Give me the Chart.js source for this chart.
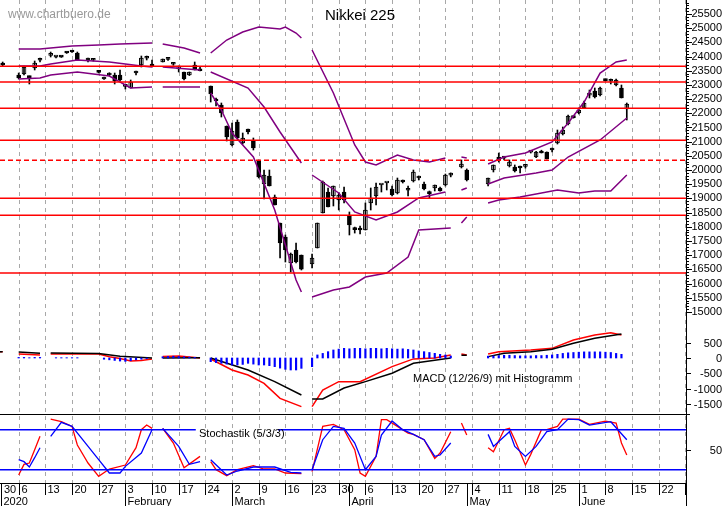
<!DOCTYPE html>
<html>
<head>
<meta charset="utf-8">
<script src="https://cdn.jsdelivr.net/npm/chart.js@4.4.0/dist/chart.umd.min.js"></script>
<style>
  html, body { margin: 0; padding: 0; background: #fff; }
  #wrap { width: 723px; height: 506px; }
</style>
</head>
<body>
<div id="wrap"><canvas id="chart" width="723" height="506"></canvas></div>
<script>
// x = trading slot (5 per week, slot 0 = Mon 30 Dec 2019)
const candlesJan = [
  [2, 23773, 23808, 23667, 23702],
  [5, 23350, 23420, 23209, 23244], [6, 23385, 23667, 23350, 23632], [7, 23280, 23315, 23033, 23260],
  [8, 23597, 23843, 23526, 23773], [9, 23870, 23950, 23808, 23890],
  [11, 24040, 24160, 23984, 24060], [12, 23980, 24020, 23950, 23990], [13, 23990, 24000, 23970, 23980],
  [14, 24160, 24170, 24110, 24125], [15, 24196, 24200, 24150, 24160], [16, 24125, 24160, 23879, 23879],
  [18, 23880, 23949, 23808, 23890], [19, 23870, 23910, 23840, 23880], [20, 23460, 23490, 23420, 23440],
  [21, 23209, 23279, 23190, 23279], [22, 23350, 23430, 23320, 23420], [23, 23350, 23420, 23033, 23138],
  [24, 23350, 23526, 23138, 23174]
];
const candlesFeb = [
  [25, 22950, 22997, 22857, 22970], [26, 22892, 23174, 22892, 23103], [27, 23420, 23491, 23350, 23430],
  [28, 23702, 24019, 23632, 23949], [29, 23940, 24019, 23879, 23960], [30, 23738, 23879, 23667, 23667],
  [32, 23808, 23914, 23808, 23914], [33, 23900, 23960, 23860, 23914], [34, 23730, 23790, 23690, 23738],
  [35, 23561, 23667, 23456, 23667], [36, 23456, 23456, 23174, 23209], [37, 23350, 23456, 23330, 23456],
  [38, 23702, 23808, 23526, 23526], [39, 23526, 23632, 23491, 23500],
  [41, 22962, 22962, 22398, 22680], [42, 22469, 22540, 22258, 22434], [43, 22293, 22363, 21870, 22011],
  [44, 21553, 21553, 21024, 21165]
];
const candlesMar = [
  [45, 20883, 21659, 20848, 21377], [46, 21694, 21765, 21095, 21130], [47, 20954, 21306, 20918, 21130],
  [48, 21447, 21447, 21271, 21341], [49, 21024, 21130, 20707, 20778], [50, 20355, 20355, 19720, 19755],
  [51, 19509, 20002, 18981, 19826], [52, 19791, 20002, 19438, 19438], [53, 19051, 19121, 18769, 18769],
  [54, 18134, 18134, 16901, 17430], [55, 17641, 17712, 16760, 17183], [56, 16725, 17077, 16408, 17042],
  [57, 17183, 17430, 16725, 16760], [58, 17007, 17007, 16478, 16507],
  [60, 16690, 17042, 16549, 16901], [61, 17253, 18134, 17253, 18134], [62, 18487, 19615, 18487, 19579],
  [63, 19227, 19368, 18698, 18698], [64, 19086, 19438, 18734, 19438], [65, 18945, 19192, 18593, 19121],
  [66, 19227, 19403, 18840, 18945]
];
const candlesApr = [
  [67, 18381, 18523, 17712, 18064], [68, 17920, 17990, 17780, 17900], [69, 17958, 18030, 17747, 17888],
  [70, 17888, 18840, 17888, 18593], [71, 18840, 19368, 18593, 19016], [72, 19086, 19544, 18769, 19403],
  [73, 19474, 19490, 19227, 19480], [74, 19544, 19560, 19298, 19550], [75, 19333, 19438, 19086, 19121],
  [76, 19192, 19720, 19157, 19650], [77, 19615, 19650, 19544, 19579], [78, 19290, 19438, 19086, 19300],
  [79, 19615, 20002, 19579, 19932], [80, 19720, 19791, 19650, 19730], [81, 19509, 19579, 19298, 19333],
  [82, 19200, 19262, 19000, 19170], [83, 19368, 19474, 19262, 19474], [84, 19368, 19400, 19260, 19262],
  [85, 19474, 19860, 19438, 19826], [86, 19820, 19900, 19760, 19830],
  [88, 20108, 20355, 20073, 20214], [89, 20002, 20040, 19615, 19650]
];
const candlesMay = [
  [93, 19509, 19720, 19438, 19720], [94, 20002, 20179, 19932, 20179], [95, 20460, 20600, 20280, 20355],
  [96, 20420, 20480, 20360, 20430], [97, 20143, 20355, 20108, 20284], [98, 20108, 20180, 19932, 19967],
  [99, 20143, 20143, 19897, 20073], [100, 20130, 20180, 20070, 20140], [101, 20630, 20650, 20600, 20637],
  [102, 20460, 20660, 20440, 20637], [103, 20672, 20700, 20601, 20601], [104, 20637, 20640, 20390, 20390],
  [105, 20707, 20778, 20637, 20778], [106, 20954, 21412, 20918, 21306], [107, 21271, 21518, 21236, 21412],
  [108, 21623, 21940, 21588, 21905], [109, 21880, 21905, 21830, 21850], [110, 22011, 22187, 21976, 22117],
  [111, 22187, 22434, 22187, 22363], [112, 22640, 22821, 22540, 22650], [113, 22786, 22892, 22540, 22575],
  [114, 22645, 22927, 22610, 22892], [115, 23174, 23209, 23138, 23150], [116, 23130, 23209, 23033, 23140],
  [117, 22997, 23209, 22962, 23174], [118, 22892, 22997, 22540, 22540], [119, 22152, 22363, 21765, 22328]
];

// Bollinger bands, null = gap
const upperBand = [[0, 24266], [1, 24266], null,
  [5, 24266], [9, 24266], [11, 24302], [15, 24372], [20, 24407], [24, 24443], [30, 24478], null,
  [32, 24443], [36, 24302], [39, 24125], null,
  [41, 24125], [44, 24583], [47, 24865], [50, 25042], [54, 24971], [55, 25042], [57, 24830], [58, 24654], null,
  [60, 24231], [64, 22716], [68, 20883], [70, 20284], [72, 20179], [76, 20531], [79, 20355], [82, 20284], [85, 20425], null,
  [88, 20460], [89, 20425], null,
  [93, 20214], [96, 20460], [100, 20601], [105, 20989], [108, 21659], [111, 22398], [114, 23420], [117, 23808], [119, 23879]];
const midBand = [[0, 23667], [1, 23667], null,
  [5, 23667], [9, 23667], [11, 23738], [16, 23879], [22, 23808], [28, 23667], [30, 23632], null,
  [32, 23632], [39, 23526], null,
  [41, 23456], [48, 22892], [51, 22222], [54, 21341], [58, 20249], null,
  [60, 19826], [65, 19192], [68, 18523], [72, 18240], [76, 18523], [80, 19016], [85, 19227], null,
  [88, 19298], [89, 19368], null,
  [93, 19509], [96, 19720], [102, 19897], [105, 20002], [108, 20460], [114, 21060], [119, 21835]];
const lowerBand = [[0, 22900], [1, 22900], null,
  [5, 23209], [9, 23244], [11, 23350], [16, 23456], [22, 23315], [26, 22892], [30, 22927], null,
  [32, 22927], [39, 22927], null,
  [41, 22716], [43, 22117], [45, 21306], [49, 20460], [53, 18593], [57, 16126], [58, 15703], null,
  [60, 15527], [64, 15774], [67, 15879], [70, 16231], [74, 16372], [78, 16936], [80, 17888], [86, 17958], null,
  [88, 18134], [89, 18346], null,
  [93, 18840], [95, 18945], [99, 19051], [106, 19298], [110, 19192], [113, 19262], [116, 19262], [119, 19826]];

const supportLines = [23657, 23103, 22176, 21049, 19005, 18406, 16373];
const dashedLine = 20344;

// MACD (12/26/9)
const macdLine = [[1, 206], [2, 206], null,
  [5, 130], [9, 98], null,
  [11, 130], [20, 130], [22, 40], [24, -20], [26, -100], [28, -80], [30, -30], null,
  [32, 45], [35, 65], [39, 0], null,
  [41, -33], [45, -392], [48, -555], [51, -828], [54, -1318], [58, -1590], null,
  [60, -1590], [62, -1046], [65, -773], [69, -773], [75, -283], [79, -30], [83, 0], [86, 100], null,
  [88, 130], [89, 100], null,
  [93, 130], [95, 207], [101, 262], [105, 316], [109, 588], [113, 751], [116, 828], [118, 751]];
const signalLine = [[1, 206], [2, 206], null,
  [5, 196], [9, 153], null,
  [11, 160], [20, 150], [24, 60], [30, 0], null,
  [32, 0], [39, 10], null,
  [41, 0], [48, -392], [53, -773], [58, -1209], null,
  [60, -1340], [62, -1340], [66, -980], [70, -773], [75, -500], [79, -174], [86, 0], null,
  [88, 90], [89, 90], null,
  [93, 45], [96, 152], [101, 207], [105, 283], [109, 479], [113, 643], [118, 784]];
const macdHist = [[5, 20], [6, 20], [7, 10], [8, 20], [9, 20],
  [12, 10], [13, 10], [14, 10], [15, 10], [16, 10],
  [21, -40], [22, -60], [23, -80], [24, -100], [25, -110], [26, -90], [27, -60], [28, -40], [29, -20],
  [32, 40], [33, 50], [34, 60], [35, 50], [36, 40], [37, 30], [38, 20],
  [41, -120], [42, -150], [43, -174], [44, -200], [45, -229], [46, -229], [47, -210], [48, -174], [49, -200],
  [50, -229], [51, -229], [52, -250], [53, -283], [54, -330], [55, -370], [56, -392], [57, -392], [58, -338],
  [60, -283], [61, 100], [62, 150], [63, 207], [64, 262], [65, 290], [66, 316], [67, 300], [68, 316],
  [69, 316], [70, 300], [71, 316], [72, 316], [73, 300], [74, 316], [75, 300], [76, 290], [77, 300],
  [78, 280], [79, 262], [80, 230], [81, 207], [82, 180], [83, 152], [84, 120], [85, 98], [86, 65],
  [93, 60], [94, 70], [95, 80], [96, 90], [97, 90], [98, 80], [99, 70], [100, 70], [101, 70], [102, 80],
  [103, 80], [104, 90], [105, 100], [106, 120], [107, 150], [108, 170], [109, 180], [110, 190], [111, 200],
  [112, 200], [113, 200], [114, 200], [115, 190], [116, 180], [117, 150], [118, 120]];

// Stochastik (5/3/3)
const stochK = [[5, 12], [6, 28], [7, 30], [8, 50], [9, 70], null,
  [11, 96], [13, 92], [15, 85], [16, 57], [18, 30], [20, 10], [22, 21], [25, 27], [27, 53], [28, 80], [29, 87], [30, 82], null,
  [32, 82], [34, 60], [36, 23], [39, 40], null,
  [41, 32], [42, 20], [44, 11], [46, 20], [49, 26], [51, 21], [53, 21], [55, 15], [58, 14], null,
  [60, 17], [62, 85], [64, 88], [66, 80], [68, 50], [69, 15], [70, 10], [72, 40], [73, 95], [74, 95],
  [76, 85], [78, 75], [79, 73], [81, 65], [83, 37], [84, 45], [86, 77], null,
  [88, 90], [89, 72], null,
  [93, 53], [94, 47], [96, 80], [97, 82], [98, 65], [100, 27], [101, 43], [103, 80], [104, 80], [106, 85],
  [107, 96], [110, 96], [112, 88], [115, 93], [117, 90], [118, 60], [119, 42]];
const stochD = [[1, 45], null,
  [5, 35], [6, 32], [7, 24], [8, 38], [9, 53], null,
  [11, 70], [13, 91], [15, 85], [17, 65], [20, 35], [22, 15], [24, 15], [25, 25], [28, 45], [30, 80], null,
  [32, 82], [35, 55], [37, 28], [39, 32], null,
  [41, 35], [44, 12], [46, 18], [49, 24], [53, 24], [56, 16], [58, 15], null,
  [60, 20], [62, 65], [64, 85], [66, 82], [68, 60], [70, 20], [72, 40], [73, 72], [75, 93], [77, 80],
  [79, 73], [81, 65], [83, 40], [84, 42], [86, 60], null,
  [93, 73], [94, 55], [97, 77], [98, 55], [100, 40], [102, 55], [104, 77], [106, 80], [108, 96], [110, 95],
  [112, 87], [116, 92], [119, 65]];

const weekLabels = ["30", "6", "13", "20", "27", "3", "10", "17", "24", "2", "9", "16", "23", "30",
  "6", "13", "20", "27", "4", "11", "18", "25", "1", "8", "15", "22", "29"];
const months = [[0, "2020"], [25, "February"], [45, "March"], [67, "April"], [89, "May"], [110, "June"]];
const priceTicks = [15000, 15500, 16000, 16500, 17000, 17500, 18000, 18500, 19000, 19500, 20000, 20500,
  21000, 21500, 22000, 22500, 23000, 23500, 24000, 24500, 25000, 25500];
const macdTicks = [500, 0, -500, -1000, -1500];
const stochTicks = [50];

const FONT = '"Liberation Sans", Arial, sans-serif';
const allCandles = [...candlesJan, ...candlesFeb, ...candlesMar, ...candlesApr, ...candlesMay];

function toPoints(arr) {
  const out = [];
  arr.forEach((p, i) => {
    if (p) out.push({ x: p[0], y: p[1] });
    else out.push({ x: arr[i - 1][0] + 0.5, y: null });
  });
  return out;
}

function lineDs(arr, color, axis, width) {
  return {
    type: "line", data: toPoints(arr), yAxisID: axis, borderColor: color,
    borderWidth: width || 1.5, pointRadius: 0, tension: 0, spanGaps: false, fill: false,
  };
}

const datasets = [];
supportLines.forEach((v) => {
  datasets.push({ type: "line", data: [{ x: 1.5, y: v }, { x: 130.1, y: v }], yAxisID: "yp",
    borderColor: "#ff0000", borderWidth: 1.6, pointRadius: 0 });
});
datasets.push({ type: "line", data: [{ x: 1.5, y: dashedLine }, { x: 130.1, y: dashedLine }], yAxisID: "yp",
  borderColor: "#ff0000", borderWidth: 1.6, borderDash: [5, 3], pointRadius: 0 });
datasets.push({ type: "line", data: [{ x: 1.5, y: 80 }, { x: 38.2, y: 80 }, { x: 38.3, y: null },
  { x: 53.6, y: 80 }, { x: 130.1, y: 80 }], yAxisID: "ys", borderColor: "#0000ff", borderWidth: 1.4,
  pointRadius: 0, spanGaps: false });
datasets.push({ type: "line", data: [{ x: 1.5, y: 20 }, { x: 130.1, y: 20 }], yAxisID: "ys",
  borderColor: "#0000ff", borderWidth: 1.4, pointRadius: 0 });

datasets.push(lineDs(upperBand, "#800080", "yp"));
datasets.push(lineDs(midBand, "#800080", "yp"));
datasets.push(lineDs(lowerBand, "#800080", "yp"));

datasets.push({ type: "bar", data: macdHist.map((p) => ({ x: p[0], y: p[1] })), yAxisID: "ym",
  backgroundColor: "#0000ff", barThickness: 1.5, grouped: false });
datasets.push(lineDs(signalLine, "#000000", "ym"));
datasets.push(lineDs(macdLine, "#ff0000", "ym"));

datasets.push(lineDs(stochD, "#0000ff", "ys", 1.3));
datasets.push(lineDs(stochK, "#ff0000", "ys", 1.3));

datasets.push({ type: "bar", data: allCandles.map((c) => ({ x: c[0], y: [c[3], c[2]] })), yAxisID: "yp",
  backgroundColor: "#000", barThickness: 1, grouped: false });
datasets.push({ type: "bar", data: allCandles.map((c) => ({ x: c[0], y: [c[1], c[4]] })), yAxisID: "yp",
  backgroundColor: allCandles.map((c) => (c[4] >= c[1] ? "#ffffff" : "#000000")),
  borderColor: "#000", borderWidth: 1, borderSkipped: false, barThickness: 4, minBarLength: 2, grouped: false });

const decor = {
  id: "decor",
  beforeDatasetsDraw(chart) {
    // dashed vertical week grid
    const ctx = chart.ctx, xs = chart.scales.x, area = chart.chartArea;
    ctx.save();
    ctx.strokeStyle = "#a8a8a8";
    ctx.lineWidth = 1;
    ctx.setLineDash([4, 4]);
    weekLabels.forEach((_, i) => {
      const px = Math.round(xs.getPixelForValue(i * 5)) + 0.5;
      ctx.beginPath(); ctx.moveTo(px, area.top); ctx.lineTo(px, area.bottom); ctx.stroke();
    });
    ctx.restore();
  },
  afterDraw(chart) {
    const ctx = chart.ctx;
    const xs = chart.scales.x, yp = chart.scales.yp, ym = chart.scales.ym, ys = chart.scales.ys;
    const area = chart.chartArea;
    ctx.save();
    ctx.fillStyle = "#999";
    ctx.font = "12px " + FONT;
    ctx.textBaseline = "middle";
    ctx.fillText("www.chartbuero.de", 8, 15);
    ctx.fillStyle = "#000";
    ctx.font = "15px " + FONT;
    ctx.fillText("Nikkei 225", 325, 16);
    ctx.font = "11px " + FONT;
    ctx.fillText("MACD (12/26/9) mit Histogramm", 413, ym.getPixelForValue(-700));
    ctx.fillText("Stochastik (5/3/3)", 199, ys.getPixelForValue(74));

    ctx.strokeStyle = "#000";
    ctx.lineWidth = 1;
    const sep = Math.round(ys.getPixelForValue(104)) + 0.5;
    ctx.beginPath();
    ctx.moveTo(0, sep); ctx.lineTo(area.right + 4, sep);
    ctx.moveTo(0, area.bottom + 0.5); ctx.lineTo(area.right, area.bottom + 0.5);
    ctx.moveTo(area.right + 0.5, 0); ctx.lineTo(area.right + 0.5, 506);
    ctx.stroke();

    ctx.textAlign = "right";
    for (let v = 15000; v <= 25900; v += 100) {
      const y = Math.round(yp.getPixelForValue(v)) + 0.5;
      ctx.beginPath(); ctx.moveTo(area.right, y); ctx.lineTo(area.right + (v % 500 ? 3 : 6), y); ctx.stroke();
    }
    priceTicks.forEach((v) => ctx.fillText(String(v), 722, yp.getPixelForValue(v)));
    macdTicks.forEach((v) => {
      const y = Math.round(ym.getPixelForValue(v)) + 0.5;
      ctx.beginPath(); ctx.moveTo(area.right, y); ctx.lineTo(area.right + 5, y); ctx.stroke();
      ctx.fillText(String(v), 722, y);
    });
    stochTicks.forEach((v) => {
      const y = Math.round(ys.getPixelForValue(v)) + 0.5;
      ctx.beginPath(); ctx.moveTo(area.right, y); ctx.lineTo(area.right + 5, y); ctx.stroke();
      ctx.fillText(String(v), 722, y);
    });

    ctx.textAlign = "left";
    weekLabels.forEach((lab, i) => {
      const px = Math.round(xs.getPixelForValue(i * 5)) + 0.5;
      ctx.beginPath(); ctx.moveTo(px, area.bottom); ctx.lineTo(px, area.bottom + 12); ctx.stroke();
      ctx.save();
      ctx.beginPath(); ctx.rect(0, area.bottom, area.right + 2, 14); ctx.clip();
      ctx.fillText(lab, Math.max(px + 2, 4), area.bottom + 7);
      ctx.restore();
    });
    months.forEach(([s, lab]) => {
      const px = Math.max(Math.round(xs.getPixelForValue(s)) + 0.5, 1.5);
      ctx.beginPath(); ctx.moveTo(px, area.bottom); ctx.lineTo(px, 506); ctx.stroke();
      ctx.fillText(lab, px + 2, area.bottom + 19);
    });
    ctx.restore();
  },
};

new Chart(document.getElementById("chart"), {
  data: { datasets },
  options: {
    responsive: false,
    animation: false,
    layout: { padding: { left: 0, right: 37, top: 0, bottom: 0 } },
    plugins: { legend: { display: false }, tooltip: { enabled: false } },
    scales: {
      x: {
        type: "linear", min: 1.5, max: 130.1, offset: false,
        afterFit: (s) => { s.height = 23; },
        ticks: { display: false },
        grid: { display: false },
        border: { display: false },
      },
      yp: { type: "linear", display: false, min: 8972, max: 25993 },
      ym: { type: "linear", display: false, min: -4085, max: 11699 },
      ys: { type: "linear", display: false, min: 0, max: 725 },
    },
  },
  plugins: [decor],
});
</script>
</body>
</html>
